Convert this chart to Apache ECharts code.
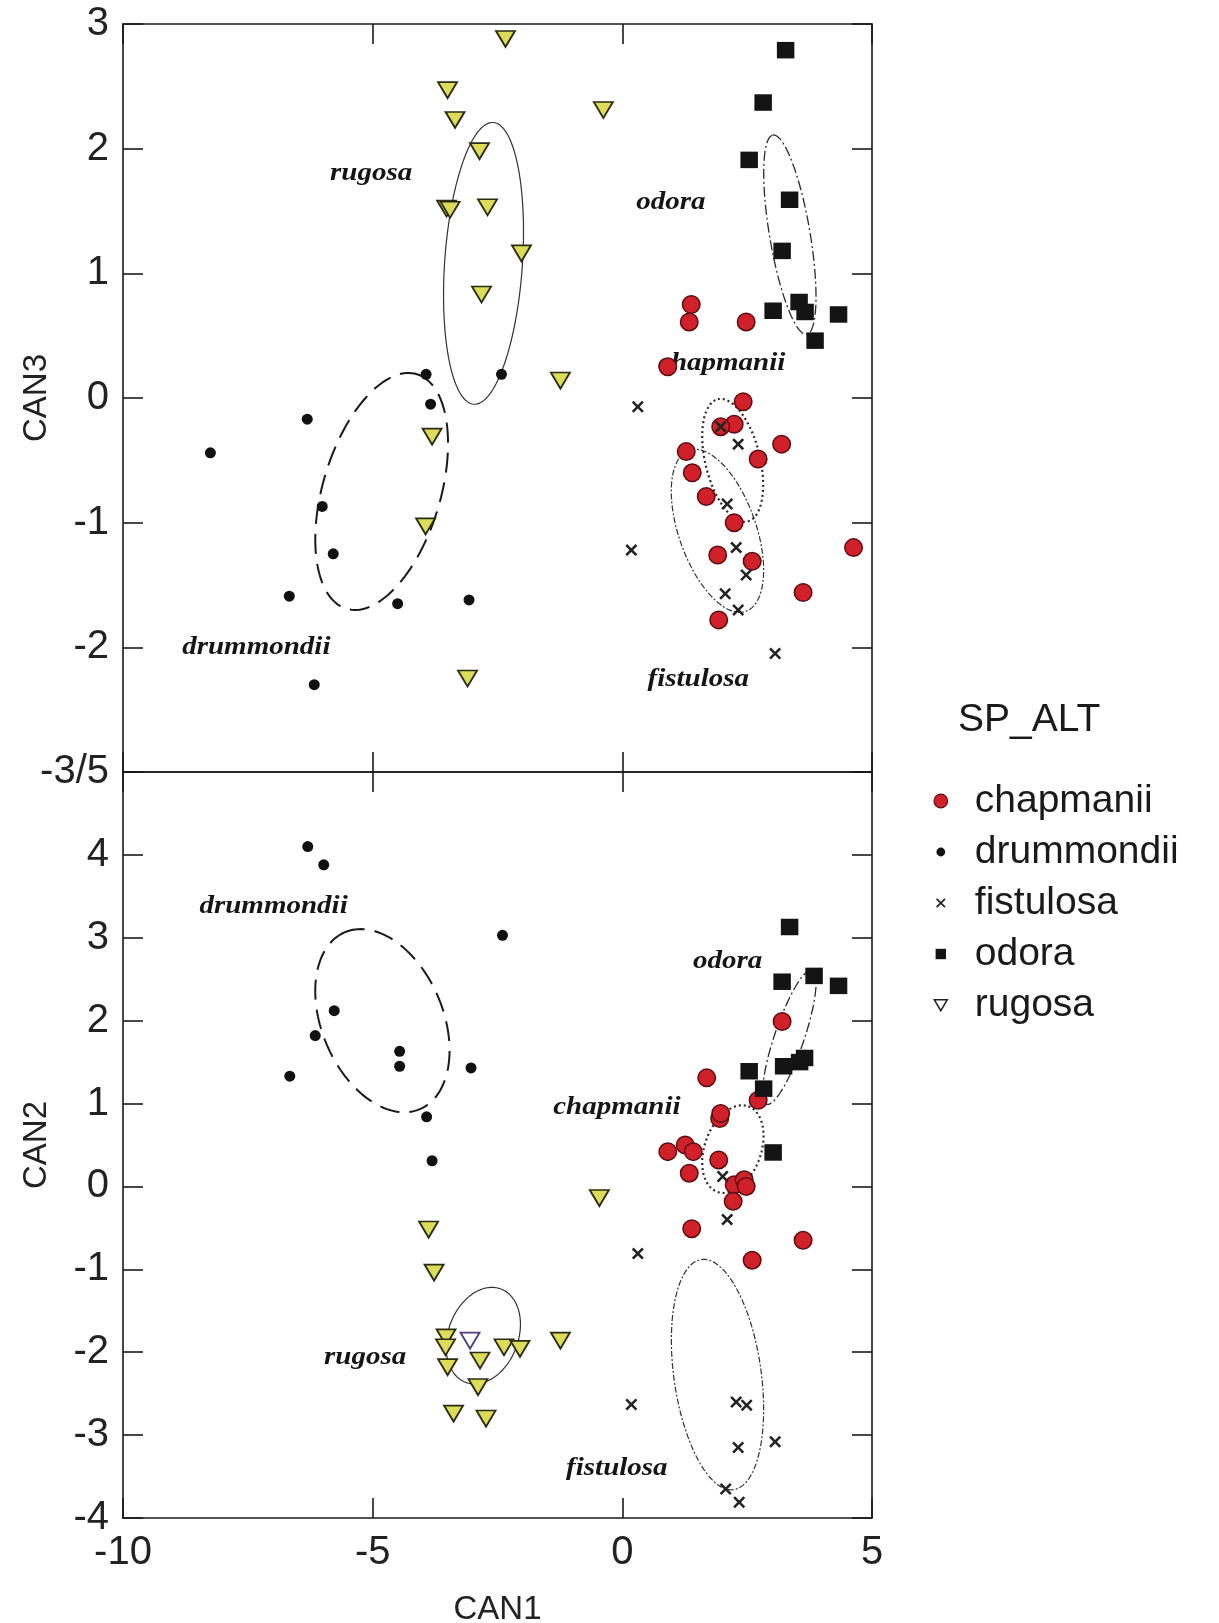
<!DOCTYPE html>
<html><head><meta charset="utf-8">
<script src="https://cdn.jsdelivr.net/npm/echarts@6/dist/echarts.min.js"></script>
<style>html,body{margin:0;padding:0;background:#fff}#c{width:1219px;height:1623px}</style>
</head><body><div id="c"></div>
<script>
// ---------- DATA ----------
const species = ['chapmanii', 'drummondii', 'fistulosa', 'odora', 'rugosa'];
const xTicks = [-10, -5, 0, 5];
const yTicksTop = [-3, -2, -1, 0, 1, 2, 3];     // -3 shown as "-3/5"
const yTicksBottom = [-4, -3, -2, -1, 0, 1, 2, 3, 4, 5];

// Top panel: CAN1 vs CAN3
const chapmaniiTop = [[1.38,0.75],[1.34,0.61],[2.48,0.61],[0.91,0.25],[2.42,-0.03],[2.24,-0.21],[1.97,-0.23],[3.19,-0.37],[2.72,-0.49],[1.28,-0.43],[1.40,-0.60],[1.68,-0.79],[2.24,-1.00],[1.91,-1.26],[2.60,-1.31],[3.62,-1.56],[1.93,-1.78],[4.63,-1.20]];
const drummondiiTop = [[-3.93,0.19],[-2.42,0.19],[-3.84,-0.05],[-6.31,-0.17],[-8.25,-0.44],[-6.01,-0.87],[-5.79,-1.25],[-6.67,-1.59],[-4.50,-1.65],[-3.07,-1.62],[-6.17,-2.30]];
const fistulosaTop = [[0.31,-0.07],[1.97,-0.23],[2.32,-0.37],[2.10,-0.85],[2.28,-1.20],[2.48,-1.42],[2.06,-1.57],[2.32,-1.70],[0.18,-1.22],[3.06,-2.05]];
const odoraTop = [[3.27,2.79],[2.82,2.37],[2.54,1.91],[3.35,1.59],[3.20,1.18],[3.02,0.70],[3.54,0.77],[3.66,0.69],[4.33,0.67],[3.86,0.46]];
const rugosaTop = [[-2.34,2.88],[-3.50,2.47],[-3.35,2.23],[-0.38,2.31],[-2.86,1.98],[-3.52,1.52],[-3.45,1.51],[-2.70,1.53],[-2.02,1.16],[-2.82,0.83],[-1.24,0.14],[-3.81,-0.31],[-3.94,-1.03],[-3.10,-2.25]];

// Bottom panel: CAN1 vs CAN2
const chapmaniiBottom = [[3.20,1.99],[1.69,1.31],[2.72,1.04],[1.95,0.82],[1.97,0.88],[1.26,0.50],[1.42,0.42],[0.91,0.42],[1.34,0.16],[1.93,0.32],[2.24,0.02],[2.44,0.08],[2.48,0.00],[2.22,-0.18],[1.39,-0.51],[3.62,-0.65],[2.60,-0.89]];
const drummondiiBottom = [[-6.30,4.10],[-5.98,3.88],[-2.40,3.03],[-5.77,2.12],[-6.15,1.82],[-6.66,1.33],[-4.46,1.63],[-4.46,1.45],[-3.03,1.43],[-3.92,0.84],[-3.81,0.31]];
const fistulosaBottom = [[2.01,0.12],[2.10,-0.40],[0.31,-0.81],[0.18,-2.63],[2.28,-2.60],[2.49,-2.64],[2.32,-3.15],[3.06,-3.08],[2.07,-3.65],[2.34,-3.81]];
const odoraBottom = [[3.35,3.13],[3.20,2.47],[3.84,2.54],[4.33,2.42],[3.65,1.55],[3.55,1.50],[3.23,1.45],[2.54,1.39],[2.83,1.18],[3.02,0.41]];
const rugosaBottom = [[-3.88,-0.52],[-3.77,-1.04],[-3.53,-1.82],[-3.54,-1.94],[-2.37,-1.94],[-2.05,-1.96],[-1.24,-1.86],[-2.85,-2.10],[-3.50,-2.18],[-2.89,-2.42],[-3.38,-2.74],[-2.73,-2.80],[-0.46,-0.14]];
const rugosaBottomOpen = [[-3.05,-1.86]];

// Confidence ellipses: species, centre x, centre y, semi-axis A (dx, dy), semi-axis B (dx, dy) in data units
const ellipsesTop = [
  ['rugosa', -2.78, 1.08, 0.194, 1.130, 0.777, -0.021],
  ['drummondii', -4.82, -0.75, 0.705, 0.941, 1.127, -0.136],
  ['odora', 3.355, 1.31, -0.338, 0.799, 0.40, 0.027],
  ['chapmanii', 2.21, -0.50, -0.298, 0.490, 0.533, 0.052],
  ['fistulosa', 1.905, -1.065, -0.569, 0.646, 0.729, 0.103]
];
const ellipsesBottom = [
  ['drummondii', -4.805, 2.0, -0.748, 1.068, 1.118, 0.284],
  ['odora', 3.345, 1.80, 0.456, 0.808, 0.280, -0.057],
  ['chapmanii', 2.214, 0.45, 0.31, 0.516, 0.531, -0.116],
  ['rugosa', -2.785, -1.80, 0.354, 0.563, 0.655, -0.150],
  ['fistulosa', 1.906, -2.27, -0.322, 1.388, 0.866, 0.073]
];

// Group labels: text, x, y
const labelsTop = [['rugosa', -5.03, 1.80], ['odora', 0.97, 1.57], ['chapmanii', 1.99, 0.28], ['drummondii', -7.33, -2.0], ['fistulosa', 1.52, -2.26]];
const labelsBottom = [['drummondii', -6.985, 3.375], ['odora', 2.11, 2.71], ['chapmanii', -0.11, 0.95], ['rugosa', -5.15, -2.07], ['fistulosa', -0.11, -3.40]];

// ---------- STYLE ----------
const SANS = '"Liberation Sans", Arial, sans-serif';
const SERIF = '"Liberation Serif", "Times New Roman", serif';
const lineCol = '#1a1a1a';
const ellipseStyle = {
  rugosa: {color: '#333', width: 1.2, dash: null},
  drummondii: {color: '#1a1a1a', width: 2, dash: [20, 10]},
  odora: {color: '#2a2a2a', width: 1.3, dash: [10, 3, 2, 3]},
  chapmanii: {color: '#2a2a2a', width: 2.2, dash: [2, 3]},
  fistulosa: {color: '#333', width: 1.2, dash: [6, 2, 2, 2]}
};
const symX = 'path://M1.5,0L5,3.5L8.5,0L10,1.5L6.5,5L10,8.5L8.5,10L5,6.5L1.5,10L0,8.5L3.5,5L0,1.5Z';
const symTri = 'path://M0,0L20,0L10,17Z';
const markerStyle = {
  chapmanii: {symbol: 'circle', size: 17.5, item: {color: '#d0212a', borderColor: '#5c0c10', borderWidth: 1.5}},
  drummondii: {symbol: 'circle', size: 11, item: {color: '#111'}},
  fistulosa: {symbol: symX, size: 12, item: {color: '#222'}},
  odora: {symbol: 'rect', size: [17.5, 16.5], item: {color: '#141414'}},
  rugosa: {symbol: symTri, size: [19, 16], item: {color: '#dcdc5a', borderColor: '#2b2b12', borderWidth: 1.8}}
};

// ---------- BUILD ----------
const topData = {chapmanii: chapmaniiTop, drummondii: drummondiiTop, fistulosa: fistulosaTop, odora: odoraTop, rugosa: rugosaTop};
const botData = {chapmanii: chapmaniiBottom, drummondii: drummondiiBottom, fistulosa: fistulosaBottom, odora: odoraBottom, rugosa: rugosaBottom};

function scatter(name, data, xi, yi, itemOverride) {
  const m = markerStyle[name];
  return {
    type: 'scatter', name, xAxisIndex: xi, yAxisIndex: yi, z: 3,
    symbol: m.symbol, symbolSize: m.size, data,
    itemStyle: Object.assign({opacity: 1}, m.item, itemOverride || {}),
    emphasis: {disabled: true}, animation: false
  };
}
function ellipses(list, xi, yi) {
  return {
    type: 'custom', xAxisIndex: xi, yAxisIndex: yi, z: 1, silent: true, animation: false,
    data: list.map(e => [e[1], e[2]]),
    renderItem: (params, api) => {
      const e = list[params.dataIndex];
      const pts = [];
      for (let k = 0; k <= 144; k++) {
        const t = k / 144 * 2 * Math.PI;
        pts.push(api.coord([e[1] + e[3] * Math.cos(t) + e[5] * Math.sin(t), e[2] + e[4] * Math.cos(t) + e[6] * Math.sin(t)]));
      }
      const st = ellipseStyle[e[0]];
      return {type: 'polyline', shape: {points: pts}, style: {stroke: st.color, lineWidth: st.width, lineDash: st.dash, fill: null}};
    }
  };
}
function labels(list, xi, yi) {
  return {
    type: 'custom', xAxisIndex: xi, yAxisIndex: yi, z: 2, silent: true, animation: false,
    data: list.map(l => [l[1], l[2]]),
    renderItem: (params, api) => {
      const l = list[params.dataIndex];
      const p = api.coord([l[1], l[2]]);
      return {type: 'text', x: p[0], y: p[1], scaleX: 1.16,
        style: {text: l[0], x: 0, y: 0, align: 'center', verticalAlign: 'middle', fill: '#151515',
          font: 'italic bold 25px ' + SERIF}};
    }
  };
}
const series = [];
series.push(ellipses(ellipsesTop, 0, 0), ellipses(ellipsesBottom, 2, 2));
series.push(labels(labelsTop, 0, 0), labels(labelsBottom, 2, 2));
species.forEach(s => series.push(scatter(s, topData[s], 0, 0)));
species.forEach(s => series.push(scatter(s, botData[s], 2, 2)));
series.push(scatter('rugosa', rugosaBottomOpen, 2, 2, {color: '#ffffff', borderColor: '#4d3f7a'}));

function xAxis(grid, pos, withLabels) {
  return {
    type: 'value', gridIndex: grid, position: pos, min: xTicks[0], max: xTicks[xTicks.length - 1], interval: 5,
    axisLine: {show: true, onZero: false, lineStyle: {color: lineCol, width: 1.6}},
    axisTick: {show: true, inside: true, length: 20, lineStyle: {color: lineCol, width: 1.6}},
    axisLabel: {show: withLabels, fontSize: 40, color: '#222', fontFamily: SANS, margin: 15},
    splitLine: {show: false},
    name: withLabels ? 'CAN1' : '', nameLocation: 'middle', nameGap: 75,
    nameTextStyle: {fontSize: 33, color: '#222', fontFamily: SANS}
  };
}
function yAxis(grid, pos, ticks, withLabels, name, fmt) {
  return {
    type: 'value', gridIndex: grid, position: pos, min: ticks[0], max: ticks[ticks.length - 1], interval: 1,
    axisLine: {show: true, onZero: false, lineStyle: {color: lineCol, width: 1.6}},
    axisTick: {show: true, inside: true, length: 20, lineStyle: {color: lineCol, width: 1.6}},
    axisLabel: {show: withLabels, fontSize: 40, color: '#222', fontFamily: SANS, margin: 14, formatter: fmt},
    splitLine: {show: false},
    name: name || '', nameLocation: 'middle', nameGap: 70, nameRotate: 90, nameMoveOverlap: false,
    nameTextStyle: {fontSize: 33, color: '#222', fontFamily: SANS}
  };
}
const padBox = 'M0,0M20,20';
const legendData = [
  {name: 'chapmanii', icon: 'path://' + padBox + 'M10,1.5A8.5,8.5 0 1 1 10,18.5A8.5,8.5 0 1 1 10,1.5Z', itemStyle: {color: '#d0212a', borderColor: '#5c0c10', borderWidth: 1.2}},
  {name: 'drummondii', icon: 'path://' + padBox + 'M10,4.5A5.5,5.5 0 1 1 10,15.5A5.5,5.5 0 1 1 10,4.5Z', itemStyle: {color: '#111', borderWidth: 0}},
  {name: 'fistulosa', icon: 'path://' + padBox + 'M5.5,4L10,8.5L14.5,4L16,5.5L11.5,10L16,14.5L14.5,16L10,11.5L5.5,16L4,14.5L8.5,10L4,5.5Z', itemStyle: {color: '#222', borderWidth: 0}},
  {name: 'odora', icon: 'path://' + padBox + 'M3.5,3.5L16.5,3.5L16.5,16.5L3.5,16.5Z', itemStyle: {color: '#141414', borderWidth: 0}},
  {name: 'rugosa', icon: 'path://' + padBox + 'M2,3.5L18,3.5L10,17Z', itemStyle: {color: '#ffffff', borderColor: '#222', borderWidth: 1.6}}
];

const option = {
  animation: false,
  backgroundColor: '#fff',
  title: {text: 'SP_ALT', left: 953, top: 695, textStyle: {fontSize: 39, fontWeight: 'normal', color: '#1a1a1a', fontFamily: SANS, lineHeight: 40}},
  legend: {
    orient: 'vertical', left: 927, top: 776, itemWidth: 16, itemHeight: 16, itemGap: 11,
    selectedMode: false, data: legendData,
    textStyle: {fontSize: 39, color: '#1a1a1a', fontFamily: SANS, lineHeight: 40, padding: [0, 0, 0, 21]}
  },
  grid: [
    {left: 123, top: 24, width: 749, height: 748, containLabel: false, outerBoundsMode: 'none'},
    {left: 123, top: 772, width: 749, height: 746, containLabel: false, outerBoundsMode: 'none'}
  ],
  xAxis: [xAxis(0, 'bottom', false), xAxis(0, 'top', false), xAxis(1, 'bottom', true), xAxis(1, 'top', false)],
  yAxis: [
    yAxis(0, 'left', yTicksTop, true, 'CAN3', v => (v === -3 ? '-3/5' : String(v))),
    yAxis(0, 'right', yTicksTop, false),
    yAxis(1, 'left', yTicksBottom, true, 'CAN2', v => (v === 5 ? '' : String(v))),
    yAxis(1, 'right', yTicksBottom, false)
  ],
  series
};
const chart = echarts.init(document.getElementById('c'), null, {renderer: 'canvas'});
chart.setOption(option);
</script>
</body></html>
